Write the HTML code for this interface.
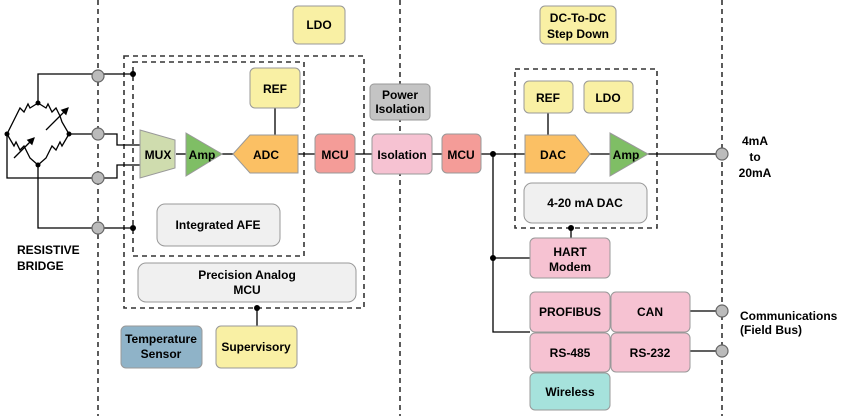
<!DOCTYPE html>
<html><head><style>body{margin:0;background:#fff}svg{display:block}text{font-family:"Liberation Sans",Arial,sans-serif;font-weight:bold;font-size:12px;fill:#000}</style></head><body>
<svg width="858" height="416" viewBox="0 0 858 416" xmlns="http://www.w3.org/2000/svg">
<defs><marker id="ar" markerWidth="6" markerHeight="6" refX="5" refY="3" orient="auto"><path d="M0,0L6,3L0,6z" fill="#000"/></marker></defs>
<g stroke="#333" stroke-width="1.6" stroke-dasharray="5,4" fill="none">
<line x1="98" y1="0" x2="98" y2="416"/><line x1="400" y1="0" x2="400" y2="416"/><line x1="722" y1="0" x2="722" y2="416"/>
<rect x="124" y="56" width="240" height="252"/><rect x="133" y="62" width="171" height="194"/><rect x="515" y="69" width="142" height="159"/>
</g>
<g stroke="#000" stroke-width="1.3" fill="none">
<polyline points="38,103 38,74 133,74"/>
<polyline points="69,134 117,134 117,145 140,145"/>
<polyline points="7,134 7,178 117,178 117,165 140,165"/>
<polyline points="38,165 38,228 133,228"/>
<line x1="176" y1="154" x2="186" y2="154"/><line x1="222" y1="154" x2="233" y2="154"/>
<line x1="275" y1="108" x2="275" y2="135"/>
<line x1="298" y1="154" x2="315" y2="154"/><line x1="355" y1="154" x2="372" y2="154"/>
<line x1="432" y1="154" x2="442" y2="154"/><line x1="481" y1="154" x2="525" y2="154"/>
<line x1="548" y1="113" x2="548" y2="135"/>
<line x1="590" y1="154" x2="610" y2="154"/><line x1="648" y1="154" x2="722" y2="154"/>
<polyline points="493,154 493,332 530,332"/><line x1="493" y1="258" x2="530" y2="258"/>
<line x1="571" y1="228" x2="571" y2="238"/>
<line x1="690" y1="311" x2="722" y2="311"/><line x1="690" y1="351" x2="722" y2="351"/>
<line x1="257" y1="308" x2="257" y2="326"/>
<!-- bridge -->
<polyline points="38,103 30,108 28,104 24,112 20,108 16,116 14,120 7,134"/>
<polyline points="38,103 46,108 48,104 52,112 56,108 60,116 62,122 69,134"/>
<polyline points="7,134 14,146 16,142 20,150 24,146 28,154 30,158 38,165"/>
<polyline points="69,134 62,146 60,142 56,150 52,146 48,154 46,158 38,165"/>
<line x1="46" y1="130" x2="68" y2="108" marker-end="url(#ar)"/>
<line x1="14" y1="158" x2="34" y2="138" marker-end="url(#ar)"/>
</g>
<g fill="#000"><circle cx="38" cy="103" r="2.5"/><circle cx="7" cy="134" r="2.5"/><circle cx="69" cy="134" r="2.5"/><circle cx="38" cy="165" r="2.5"/>
<circle cx="133" cy="74" r="3"/><circle cx="133" cy="228" r="3"/><circle cx="493" cy="154" r="3"/><circle cx="493" cy="258" r="3"/><circle cx="571" cy="228" r="3"/><circle cx="257" cy="308" r="3"/></g>
<g fill="#bbb" stroke="#666" stroke-width="1.2">
<circle cx="98" cy="76" r="6"/><circle cx="98" cy="134" r="6"/><circle cx="98" cy="178" r="6"/><circle cx="98" cy="228" r="6"/>
<circle cx="722" cy="154" r="6"/><circle cx="722" cy="311" r="6"/><circle cx="722" cy="351" r="6"/></g>
<g stroke="#999" stroke-width="1">
<rect x="293" y="6" width="52" height="38" rx="5" fill="#f9f0a4"/>
<rect x="540" y="6" width="76" height="38" rx="5" fill="#f9f0a4"/>
<rect x="250" y="68" width="50" height="40" rx="5" fill="#f9f0a4"/>
<rect x="524" y="81" width="49" height="32" rx="5" fill="#f9f0a4"/>
<rect x="584" y="81" width="49" height="32" rx="5" fill="#f9f0a4"/>
<polygon points="140,130 175,140 175,168 140,178" fill="#cfdcae"/>
<polygon points="186,133 222,154 186,176" fill="#7fbe65"/>
<polygon points="233,154 250,135 298,135 298,173 250,173" fill="#fbc064"/>
<polygon points="525,135 575,135 590,154 575,173 525,173" fill="#fbc064"/>
<polygon points="610,133 648,154 610,176" fill="#7fbe65"/>
<rect x="315" y="134" width="40" height="39" rx="5" fill="#f49c98"/>
<rect x="442" y="134" width="39" height="39" rx="5" fill="#f49c98"/>
<rect x="370" y="84" width="60" height="36" rx="4" fill="#c4c4c4"/>
<rect x="372" y="134" width="60" height="40" rx="5" fill="#f6c2d2"/>
<rect x="157" y="204" width="123" height="42" rx="8" fill="#f0f0f0"/>
<rect x="138" y="263" width="218" height="39" rx="8" fill="#f0f0f0"/>
<rect x="524" y="183" width="123" height="40" rx="8" fill="#f0f0f0"/>
<rect x="530" y="238" width="80" height="40" rx="5" fill="#f6c2d2"/>
<rect x="530" y="292" width="80" height="40" rx="5" fill="#f6c2d2"/>
<rect x="611" y="292" width="79" height="40" rx="5" fill="#f6c2d2"/>
<rect x="530" y="333" width="80" height="39" rx="5" fill="#f6c2d2"/>
<rect x="611" y="333" width="79" height="39" rx="5" fill="#f6c2d2"/>
<rect x="530" y="373" width="80" height="37" rx="5" fill="#a6e2dc"/>
<rect x="121" y="326" width="81" height="42" rx="5" fill="#8fb3c8"/>
<rect x="216" y="326" width="81" height="42" rx="5" fill="#f9f0a4"/>
</g>
<g text-anchor="middle">
<text x="319" y="29">LDO</text><text x="578" y="22">DC-To-DC</text><text x="578" y="38">Step Down</text>
<text x="275" y="93">REF</text><text x="548" y="102">REF</text><text x="608" y="102">LDO</text>
<text x="158" y="159">MUX</text><text x="202" y="159">Amp</text><text x="266" y="159">ADC</text>
<text x="553" y="159">DAC</text><text x="626" y="159">Amp</text>
<text x="335" y="159">MCU</text><text x="461" y="159">MCU</text>
<text x="400" y="99" font-size="11">Power</text><text x="400" y="113" font-size="11">Isolation</text>
<text x="402" y="159">Isolation</text>
<text x="218" y="229">Integrated AFE</text>
<text x="247" y="279">Precision Analog</text><text x="247" y="294">MCU</text>
<text x="585" y="207">4-20 mA DAC</text>
<text x="570" y="256">HART</text><text x="570" y="271">Modem</text>
<text x="570" y="316">PROFIBUS</text><text x="650" y="316">CAN</text>
<text x="570" y="357">RS-485</text><text x="650" y="357">RS-232</text>
<text x="570" y="396">Wireless</text>
<text x="161" y="343">Temperature</text><text x="161" y="358">Sensor</text>
<text x="256" y="351">Supervisory</text>
<text x="755" y="145">4mA</text><text x="755" y="161">to</text><text x="755" y="177">20mA</text>
</g>
<text x="17" y="254">RESISTIVE</text><text x="17" y="270">BRIDGE</text>
<text x="740" y="320">Communications</text><text x="740" y="334">(Field Bus)</text>
</svg>
</body></html>
